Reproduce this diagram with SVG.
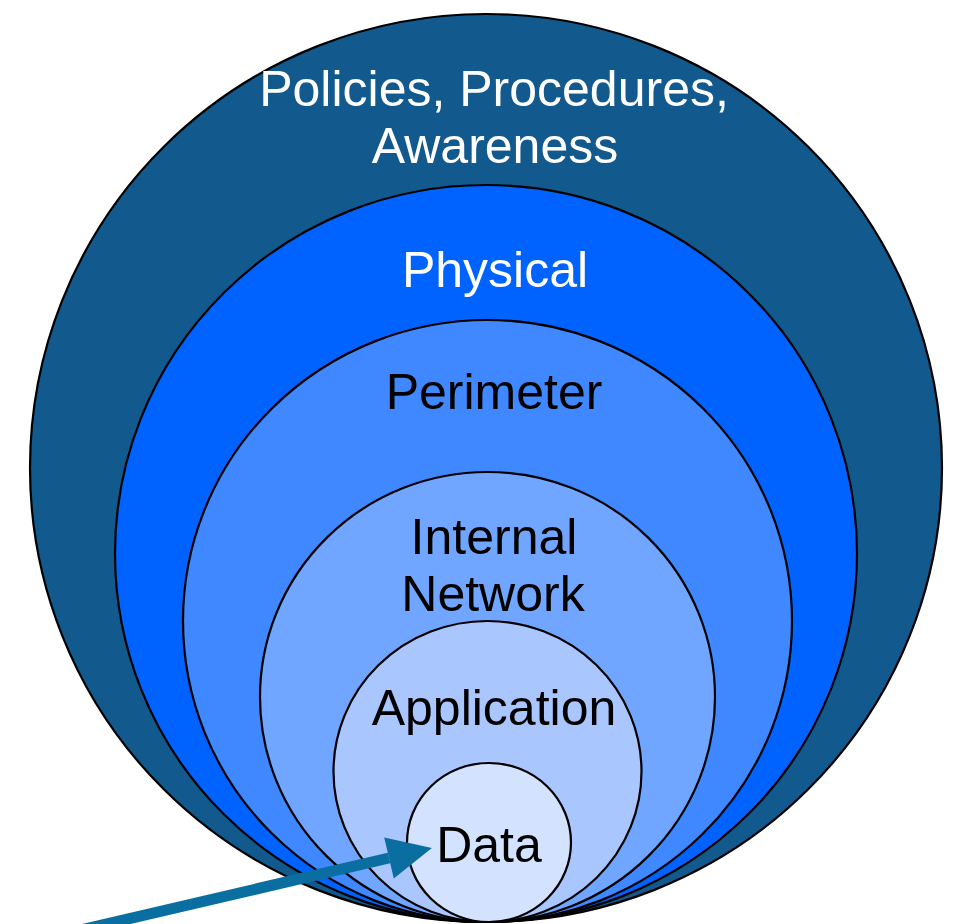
<svg xmlns="http://www.w3.org/2000/svg" width="954" height="924" viewBox="0 0 954 924">
  <style>
    .ring { stroke: #000; stroke-width: 2.2; }
    .lbl { font-family: "Liberation Sans", Arial, sans-serif; font-size: 50px; text-anchor: middle; }
    .light { fill: #ffffff; }
    .dark { fill: #000000; }
    .arrow { fill: none; stroke: #0B6EA0; stroke-width: 11; }
  </style>
  <defs>
    <marker id="head" markerUnits="userSpaceOnUse" markerWidth="46" markerHeight="44" refX="0" refY="21" orient="auto" overflow="visible">
      <path d="M0,0 L44,21 L0,42 Z" fill="#0B6EA0"/>
    </marker>
  </defs>

  <rect width="954" height="924" fill="#ffffff"/>

  <!-- concentric layers, all tangent at the bottom -->
  <g id="policies">
    <ellipse class="ring" cx="486" cy="468" rx="456" ry="454" fill="#12598E"/>
    <text class="lbl light" x="494" y="106">Policies, Procedures,</text>
    <text class="lbl light" x="495" y="163">Awareness</text>
  </g>
  <g id="physical">
    <ellipse class="ring" cx="486" cy="553.5" rx="371" ry="368.5" fill="#0062FF"/>
    <text class="lbl light" x="495" y="287">Physical</text>
  </g>
  <g id="perimeter">
    <ellipse class="ring" cx="487.5" cy="621" rx="304.5" ry="301" fill="#3F88FF"/>
    <text class="lbl dark" x="494" y="409">Perimeter</text>
  </g>
  <g id="internal-network">
    <ellipse class="ring" cx="487.5" cy="697" rx="227.5" ry="225" fill="#70A6FF"/>
    <text class="lbl dark" x="494" y="554">Internal</text>
    <text class="lbl dark" x="493" y="611">Network</text>
  </g>
  <g id="application">
    <ellipse class="ring" cx="487.5" cy="771.5" rx="154" ry="150.5" fill="#A9C6FF"/>
    <text class="lbl dark" x="494" y="725">Application</text>
  </g>
  <g id="data">
    <ellipse class="ring" cx="489" cy="842.5" rx="82" ry="79.5" fill="#D3E2FF"/>
    <text class="lbl dark" x="489" y="862">Data</text>
  </g>

  <!-- pointer into the data core -->
  <g id="connectors">
    <path class="arrow" d="M72,932 L389,858" marker-end="url(#head)"/>
  </g>
</svg>
